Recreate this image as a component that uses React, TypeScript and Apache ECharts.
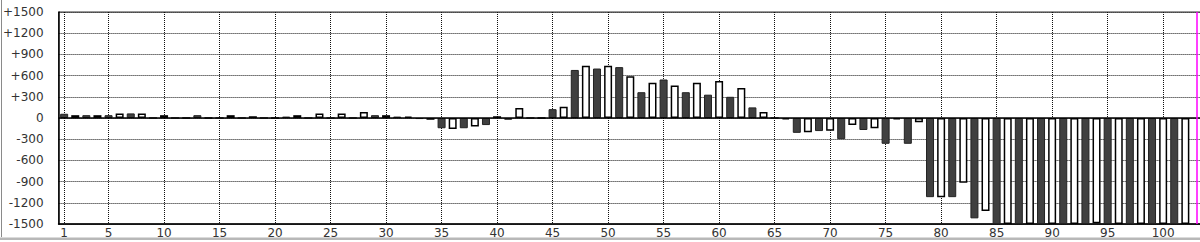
import React, { useEffect, useRef } from "react";
import * as echarts from "echarts";

// x categories 1..103 (game numbers)
const categories: string[] = Array.from({ length: 103 }, (_, i) => String(i + 1));

// difference values per game
const values: (number | null)[] = [
  60, 40, 40, 40, 40, 65, 65, 65, 0, 40, // 1-10
  0, 0, 40, 0, 0, 40, 0, 25, 0, 0, // 11-20
  20, 40, 0, 65, 0, 65, 0, 85, 40, 40, // 21-30
  20, 20, -15, -25, -145, -155, -145, -120, -100, 25, // 31-40
  -25, 140, 0, 0, 125, 160, 680, 740, 700, 740, // 41-50
  720, 590, 365, 500, 545, 460, 365, 500, 330, 525, // 51-60
  300, 425, 150, 85, 0, -20, -210, -200, -185, -180, // 61-70
  -300, -100, -170, -145, -365, -20, -365, -60, -1120, -1120, // 71-80
  -1120, -915, -1420, -1315, -1500, -1500, -1500, -1500, -1500, -1500, // 81-90
  -1500, -1500, -1500, -1490, -1500, -1500, -1500, -1500, -1500, -1500, // 91-100
  -1500, -1500, null, // 101-103
];

// categories where the vertical dotted grid lines are drawn
const gridCategories: string[] = [
  "1", "5", "10", "15", "20", "25", "30", "35", "40", "45", "50",
  "55", "60", "65", "70", "75", "80", "85", "90", "95", "100",
];

// current position marker (magenta line)
const markerCategory = "103";

const Y_MIN = -1500;
const Y_MAX = 1500;
const Y_STEP = 300;

export default function App() {
  const ref = useRef<HTMLDivElement>(null);

  useEffect(() => {
    if (!ref.current) return;
    const chart = echarts.init(ref.current, null, { renderer: "svg" });
    const font = "DejaVu Sans";
    const darkStyle = { color: "#404040", borderColor: "#222", borderWidth: 1 };
    const lightStyle = { color: "#ffffff", borderColor: "#000", borderWidth: 1.5 };
    const dotted = { color: "#111", width: 1, type: [1, 1] as number[] };
    const isGridCat = (_: number, value: string) => gridCategories.indexOf(String(value)) >= 0;

    chart.setOption({
      animation: false,
      backgroundColor: "#ffffff",
      grid: {
        left: 55,
        right: 0,
        top: 12,
        bottom: 18,
        show: true,
        borderColor: "#333",
        borderWidth: 1,
      },
      xAxis: {
        type: "category",
        data: categories,
        boundaryGap: true,
        axisLine: { show: true, onZero: false, lineStyle: { color: "#000", width: 1.5 } },
        axisTick: { show: false },
        splitLine: {
          show: true,
          alignWithLabel: true,
          interval: isGridCat,
          lineStyle: dotted,
        },
        axisLabel: {
          interval: isGridCat,
          fontFamily: font,
          fontSize: 12,
          color: "#333",
          margin: 3,
        },
      },
      yAxis: {
        type: "value",
        min: Y_MIN,
        max: Y_MAX,
        interval: Y_STEP,
        axisLine: { show: true, lineStyle: { color: "#000", width: 1.5 } },
        axisTick: { show: false },
        splitLine: { show: true, lineStyle: dotted },
        axisLabel: {
          fontFamily: font,
          fontSize: 12,
          color: "#333",
          margin: 15,
          formatter: (v: number) => (v > 0 ? `+${v}` : `${v}`),
        },
      },
      series: [
        {
          type: "bar",
          z: 2,
          barWidth: 8,
          clip: true,
          data: values.map((v, i) => ({
            value: v,
            itemStyle: i % 2 === 0 ? darkStyle : lightStyle,
          })),
        },
        {
          type: "line",
          z: 3,
          data: [],
          markLine: {
            z: 3,
            silent: true,
            symbol: "none",
            label: { show: false },
            data: [
              { yAxis: 0, lineStyle: { color: "#000", width: 1.5, type: "solid" } },
              { xAxis: markerCategory, lineStyle: { color: "#ff00ff", width: 1.5, type: "solid" } },
            ],
          },
        },
      ],
      graphic: [
        {
          type: "line",
          silent: true,
          shape: { x1: 1.5, y1: 0, x2: 1.5, y2: 237 },
          style: { stroke: "#8a8a8a", lineWidth: 1 },
        },
        {
          type: "rect",
          silent: true,
          shape: { x: 0, y: 237.5, width: 1202, height: 2.5 },
          style: { fill: "#b8b8b8" },
        },
      ],
    });

    return () => {
      chart.dispose();
    };
  }, []);

  return (
    <div
      style={{
        position: "fixed",
        left: 0,
        top: 0,
        width: 1200,
        height: 242,
        overflow: "hidden",
        background: "#fff",
      }}
    >
      <div ref={ref} style={{ width: 1202, height: 242 }} />
    </div>
  );
}
